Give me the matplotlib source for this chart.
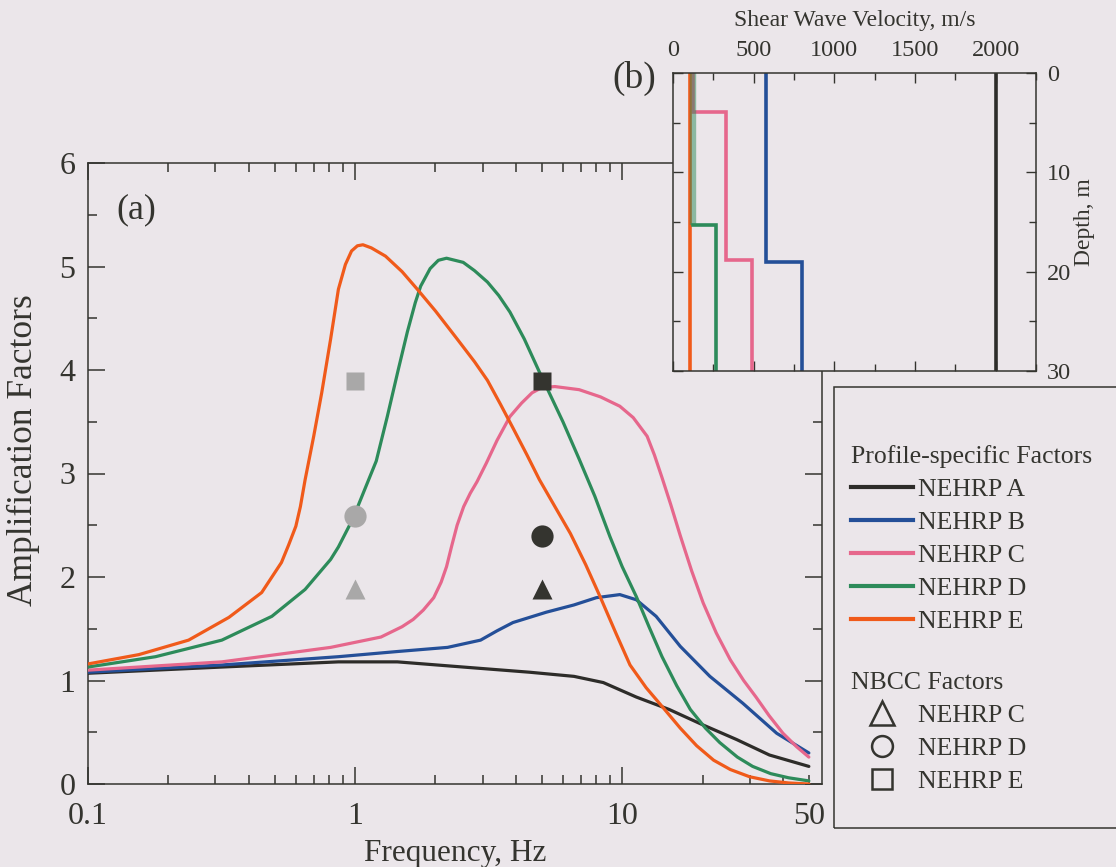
import matplotlib
matplotlib.use("Agg")
import matplotlib.pyplot as plt
from matplotlib.lines import Line2D
from matplotlib.patches import Rectangle
from matplotlib.ticker import FixedLocator, FixedFormatter, NullFormatter, MultipleLocator

plt.rcParams['font.family'] = ['Liberation Serif', 'DejaVu Serif']

BG = '#ebe6ea'
INK = '#34342f'

# ---- amplification spectra (frequency in Hz, amplification factor) ----
freq_a = [0.1, 0.317, 0.866, 1.44, 2.54, 4.5, 6.6, 8.5, 11.3, 15.0, 20.1, 26.8, 35.6, 50]
amp_a = [1.07, 1.13, 1.18, 1.18, 1.13, 1.08, 1.04, 0.98, 0.84, 0.72, 0.57, 0.43, 0.28, 0.17]

freq_b = [0.1, 0.317, 0.866, 1.44, 2.22, 2.95, 3.4, 3.9, 5.2, 6.6, 8.0, 9.8, 11.3, 13.4, 16.5, 21.3,
          28.3, 37.9, 50]
amp_b = [1.08, 1.15, 1.23, 1.28, 1.32, 1.39, 1.48, 1.56, 1.66, 1.73, 1.80, 1.83, 1.78, 1.62, 1.33, 1.04,
         0.78, 0.49, 0.30]

freq_c = [0.1, 0.317, 0.81, 1.25, 1.5, 1.65, 1.8, 1.97, 2.1, 2.2, 2.3, 2.41, 2.55, 2.7, 2.86, 3.1, 3.4,
          3.8, 4.2, 4.6, 5.0, 5.6, 6.9, 8.3, 9.8, 11.0, 12.4, 13.2, 14.1, 15.2, 16.5, 18.2, 20.1, 22.5,
          25.4, 28.5, 31.7, 35.5, 40, 45, 50]
amp_c = [1.10, 1.18, 1.32, 1.42, 1.52, 1.59, 1.68, 1.80, 1.95, 2.10, 2.30, 2.50, 2.68, 2.81, 2.92, 3.10, 3.32,
         3.55, 3.68, 3.78, 3.83, 3.84, 3.81, 3.74, 3.65, 3.54, 3.36, 3.18, 2.96, 2.70, 2.40, 2.06, 1.75, 1.46,
         1.20, 1.00, 0.84, 0.66, 0.49, 0.36, 0.26]

freq_d = [0.1, 0.179, 0.317, 0.488, 0.65, 0.81, 0.866, 0.98, 1.1, 1.2, 1.32, 1.45, 1.57, 1.68, 1.76, 1.91,
          2.05, 2.2, 2.54, 2.8, 3.13, 3.45, 3.8, 4.3, 4.9, 5.4, 6.0, 6.9, 7.9, 9.0, 10.0, 11.3, 12.6, 14.1,
          16.0, 18.0, 20.5, 23.2, 27.0, 30.8, 36.0, 42.0, 50]
amp_d = [1.13, 1.23, 1.39, 1.62, 1.88, 2.17, 2.29, 2.56, 2.88, 3.12, 3.55, 4.00, 4.37, 4.65, 4.81, 4.98,
         5.06, 5.08, 5.04, 4.96, 4.85, 4.72, 4.56, 4.30, 3.98, 3.75, 3.50, 3.14, 2.78, 2.39, 2.10, 1.81, 1.52,
         1.23, 0.95, 0.72, 0.54, 0.40, 0.26, 0.17, 0.10, 0.06, 0.03]

freq_e = [0.1, 0.155, 0.238, 0.337, 0.447, 0.53, 0.564, 0.60, 0.624, 0.65, 0.70, 0.75, 0.81, 0.866, 0.92,
          0.97, 1.02, 1.07, 1.15, 1.3, 1.5, 1.71, 2.0, 2.41, 2.8, 3.13, 3.5, 3.9, 4.4, 4.9, 5.6, 6.4, 7.3,
          8.3, 9.5, 10.7, 12.3, 14.1, 16.5, 19.0, 22.0, 25.4, 30.0, 35.6, 42.0, 50]
amp_e = [1.16, 1.25, 1.39, 1.61, 1.85, 2.14, 2.31, 2.49, 2.68, 2.94, 3.36, 3.78, 4.30, 4.78, 5.02,
         5.15, 5.20, 5.21, 5.18, 5.10, 4.95, 4.78, 4.57, 4.30, 4.08, 3.90, 3.67, 3.44, 3.18, 2.94, 2.68, 2.42,
         2.12, 1.80, 1.45, 1.15, 0.93, 0.75, 0.54, 0.37, 0.23, 0.14, 0.07, 0.03, 0.01, 0.0]

# ---- NBCC factors ----
nbcc_freq = [1.0, 5.0]
nbcc_site_c = [1.88, 1.88]
nbcc_site_d = [2.59, 2.40]
nbcc_site_e = [3.89, 3.89]
nbcc_colors = ['#a9a8a8', '#34342f']

# ---- shear wave velocity profiles (layer boundaries in m, velocity in m/s) ----
depth_a = [0, 30]
vs_a = [2000]
depth_b = [0, 19, 30]
vs_b = [575, 800]
depth_c = [0, 3.9, 18.8, 30]
vs_c = [125, 330, 490]
depth_d = [0, 15.3, 30]
vs_d = [125, 265]
depth_e = [0, 30]
vs_e = [105]

site_names = ['NEHRP A', 'NEHRP B', 'NEHRP C', 'NEHRP D', 'NEHRP E']
site_colors = ['#2d2c29', '#244f98', '#e6678c', '#2d8b5a', '#f05a1a']

fig = plt.figure(figsize=(11.16, 8.67), dpi=100, facecolor=BG)

# ---------------- (a) amplification factors ----------------
ax = fig.add_axes([88 / 1116, 1 - 784 / 867, (822 - 88) / 1116, (784 - 163) / 867])
ax.set_facecolor(BG)
series = [(freq_a, amp_a), (freq_b, amp_b), (freq_c, amp_c), (freq_d, amp_d), (freq_e, amp_e)]
for (f, a), col in zip(series, site_colors):
    ax.plot(f, a, color=col, lw=2.3, solid_capstyle='round', solid_joinstyle='round', zorder=3)

for i, col in enumerate(nbcc_colors):
    ax.plot(nbcc_freq[i], nbcc_site_c[i], marker='^', ms=15, color=col, mec='none', ls='none', zorder=5)
    ax.plot(nbcc_freq[i], nbcc_site_d[i], marker='o', ms=16, color=col, mec='none', ls='none', zorder=5)
    ax.plot(nbcc_freq[i], nbcc_site_e[i], marker='s', ms=13.5, color=col, mec='none', ls='none', zorder=5)

ax.set_xscale('log')
ax.set_xlim(0.1, 56)
ax.set_ylim(0, 6)
ax.xaxis.set_major_locator(FixedLocator([0.1, 1, 10, 50]))
ax.xaxis.set_major_formatter(FixedFormatter(['0.1', '1', '10', '50']))
ax.xaxis.set_minor_locator(FixedLocator([0.2, 0.3, 0.4, 0.5, 0.6, 0.7, 0.8, 0.9,
                                         2, 3, 4, 5, 6, 7, 8, 9, 20, 30, 40]))
ax.xaxis.set_minor_formatter(NullFormatter())
ax.yaxis.set_major_locator(MultipleLocator(1))
ax.yaxis.set_minor_locator(MultipleLocator(0.5))
ax.tick_params(which='both', direction='in', top=True, right=True, colors=INK,
               labelsize=23, width=1.1)
ax.tick_params(axis='x', which='both', pad=13)
ax.tick_params(axis='y', which='both', pad=9)
ax.tick_params(which='major', length=12)
ax.tick_params(which='minor', length=6.5)
t50 = ax.xaxis.get_major_ticks()[3]
t50.tick1line.set_markersize(6.5)
t50.tick2line.set_markersize(6.5)
for s in ax.spines.values():
    s.set_color(INK)
    s.set_linewidth(1.1)
ax.set_xlabel('Frequency, Hz', fontsize=22.5, color=INK, labelpad=6)
ax.set_ylabel('Amplification Factors', fontsize=25.5, color=INK)
ax.yaxis.set_label_coords((40 - 88) / 734, (784 - 450) / 621)
fig.text(116 / 1116, 1 - 210 / 867, '(a)', fontsize=26, color=INK, ha='left', va='center')

# ---------------- (b) velocity profiles ----------------
axi = fig.add_axes([673 / 1116, 1 - 371 / 867, (1036 - 673) / 1116, (371 - 73) / 867], zorder=5)
axi.set_facecolor(BG)


def steps(d, v):
    xs, ys = [], []
    for k, vel in enumerate(v):
        xs += [vel, vel]
        ys += [d[k], d[k + 1]]
    return xs, ys


for (d, v), col in zip([(depth_a, vs_a), (depth_b, vs_b), (depth_c, vs_c), (depth_e, vs_e)],
                       [site_colors[0], site_colors[1], site_colors[2], site_colors[4]]):
    xs, ys = steps(d, v)
    axi.plot(xs, ys, color=col, lw=2.6, solid_joinstyle='miter')
# Site D: the shallow layer shares the soft velocity of site E, so draw it blended over E
xs, ys = steps(depth_d, vs_d)
axi.plot(xs[1:], ys[1:], color=site_colors[3], lw=2.6, solid_joinstyle='miter')
axi.plot(xs[:2], ys[:2], color=site_colors[3], lw=4.6, alpha=0.5, solid_capstyle='butt')

axi.set_xlim(0, 2250)
axi.set_ylim(30, 0)
axi.xaxis.set_major_locator(MultipleLocator(500))
axi.xaxis.set_minor_locator(MultipleLocator(250))
axi.yaxis.set_major_locator(MultipleLocator(10))
axi.yaxis.set_minor_locator(MultipleLocator(5))
axi.xaxis.set_label_position('top')
axi.yaxis.set_label_position('right')
axi.tick_params(which='both', direction='in', top=True, bottom=True, left=True, right=True,
                labeltop=True, labelbottom=False, labelleft=False, labelright=True,
                colors=INK, labelsize=17.5, width=1.0)
axi.tick_params(which='major', length=7)
axi.tick_params(which='minor', length=5)
axi.tick_params(axis='x', pad=9)
axi.tick_params(axis='y', pad=8)
for s in axi.spines.values():
    s.set_color(INK)
    s.set_linewidth(1.1)
axi.set_xlabel('Shear Wave Velocity, m/s', fontsize=17, color=INK, labelpad=10)
axi.set_ylabel('Depth, m', fontsize=17, color=INK, labelpad=2, rotation=90)
fig.text(612 / 1116, 1 - 78 / 867, '(b)', fontsize=27, color=INK, ha='left', va='center', zorder=6)

# ---------------- legend ----------------
fig.patches.append(Rectangle((834 / 1116, 1 - 828 / 867), (1120 - 834) / 1116, (828 - 387) / 867,
                             transform=fig.transFigure, fill=False, edgecolor=INK, lw=1.1))

line_handles = [Line2D([], [], color=c, lw=3.0) for c in site_colors]
leg1 = fig.legend(line_handles, site_names, loc='upper left',
                  bbox_to_anchor=(851 / 1116, 1 - 445 / 867), frameon=False,
                  title='Profile-specific Factors', title_fontsize=18.5, fontsize=18.5,
                  alignment='left', handlelength=2.4, handletextpad=0.2, labelspacing=0.39,
                  borderpad=0, borderaxespad=0)
for t in leg1.get_texts():
    t.set_color(INK)
leg1.get_title().set_color(INK)

marker_handles = [Line2D([], [], ls='none', marker=m, ms=ms, mfc='none', mec=INK, mew=1.8)
                  for m, ms in (('^', 17), ('o', 15), ('s', 14))]
leg2 = fig.legend(marker_handles, ['NEHRP C', 'NEHRP D', 'NEHRP E'], loc='upper left',
                  bbox_to_anchor=(851 / 1116, 1 - 672 / 867), frameon=False, numpoints=1,
                  title='NBCC Factors', title_fontsize=18.5, fontsize=18.5,
                  alignment='left', handlelength=2.4, handletextpad=0.2, labelspacing=0.39,
                  borderpad=0, borderaxespad=0)
for t in leg2.get_texts():
    t.set_color(INK)
leg2.get_title().set_color(INK)

fig.savefig('out.png', dpi=100, facecolor=BG)
